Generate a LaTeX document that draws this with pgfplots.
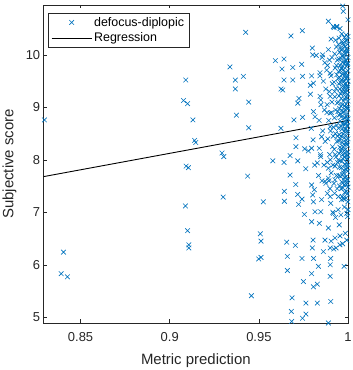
\documentclass[border=0pt]{standalone}
\usepackage{pgfplots}
\pgfplotsset{compat=1.18}
\usepackage{fontspec}
\setmainfont{Liberation Sans}
\definecolor{mblue}{RGB}{0,114,189}
\definecolor{axgray}{RGB}{38,38,38}
\pgfplotsset{
  legmark/.style={legend image code/.code={\draw[mark repeat=2,mark phase=2,##1] plot coordinates {(0bp,0bp) (20bp,0bp) (40bp,0bp)};}},
  legline/.style={legend image code/.code={\draw[##1] (0bp,0bp) -- (40bp,0bp);}},
}
\begin{document}
\begin{tikzpicture}
\useasboundingbox (-43.7bp,-47bp) rectangle (309.3bp,323bp);
\begin{axis}[
  at={(0,0)}, anchor=south west,
  scale only axis, width=304.3bp, height=318bp,
  xmin=0.8293, xmax=1, ymin=4.89, ymax=10.95,
  clip=false,
  axis line style={axgray, line width=0.5pt},
  tick style={axgray, line width=0.5pt},
  tick align=inside, major tick length=3.5bp,
  xtick={0.85,0.9,0.95,1}, xticklabels={0.85,0.9,0.95,1},
  ytick={5,6,7,8,9,10}, yticklabels={5,6,7,8,9,10},
  /pgf/number format/assume math mode=true,
  tick label style={font=\fontsize{13}{15}\selectfont, text=axgray},
  xticklabel style={yshift=-6bp},
  xlabel={Metric prediction}, ylabel={Subjective score},
  label style={font=\fontsize{15}{17}\selectfont, text=axgray},
  xlabel style={at={(axis description cs:0.5,-0.132)}, anchor=base},
  ylabel style={at={(axis description cs:-0.0999,0.5)}, anchor=base, rotate=0},
  legend cell align=left,
  legend style={at={(0.014,0.975)}, anchor=north west, draw=axgray, line width=0.5pt,
    font=\fontsize{12.5}{14}\selectfont, inner xsep=3bp, inner ysep=2bp, row sep=1bp},
]
\addplot[only marks, mark=x, mark size=3.3bp, mblue, line width=0.6pt, legmark]
coordinates {
(0.8297,8.76) (0.8404,6.24) (0.8391,5.83) (0.8426,5.77)
(0.909,9.52) (0.9077,9.13) (0.910,9.07) (0.913,8.76) (0.914,8.37) (0.9146,8.33)
(0.9092,7.88) (0.9105,7.85) (0.9088,7.12) (0.910,6.65) (0.9107,6.38) (0.9107,6.32)
(0.9338,9.77) (0.9368,9.52) (0.9368,9.35) (0.9413,9.59) (0.9374,8.85) (0.9426,10.43)
(0.9443,9.10) (0.9443,8.61) (0.9293,8.13) (0.9303,8.06) (0.930,7.29) (0.9437,7.69)
(0.9458,5.41) (0.9508,6.59) (0.9512,6.45) (0.9499,6.11) (0.9512,6.14) (0.9525,7.20)
(0.9578,7.98) (0.9593,9.89) (0.963,9.73) (0.9641,9.92) (0.9641,9.52) (0.9624,9.35)
(0.9634,9.33) (0.9624,8.60) (0.9641,7.95) (0.9643,7.40) (0.9643,7.21) (0.9656,6.43)
(0.966,6.16) (0.966,5.89) (0.968,10.36) (0.9744,10.46) (0.9686,5.37) (0.9682,5.11)
(0.9684,4.92) (0.9675,7.71) (0.9675,8.08) (0.969,9.52) (0.969,9.76) (0.974,9.82)
(0.9745,9.59) (0.9718,9.08) (0.9725,9.17) (0.9697,8.76) (0.9745,8.81) (0.9708,8.42)
(0.9708,8.25) (0.9718,7.98) (0.9707,7.53) (0.9718,7.34) (0.9723,7.15) (0.9742,7.25)
(0.9755,6.96) (0.9705,6.37) (0.9742,6.12) (0.975,5.68) (0.9764,5.27) (0.9764,5.06)
(0.9745,4.98) (0.9763,7.83) (0.9757,8.21) (0.9778,8.17) (0.98,10.13) (0.9802,10.0)
(0.9822,9.99) (0.9796,9.60) (0.9789,9.42) (0.9789,9.25) (0.9806,9.46) (0.9843,9.66)
(0.9843,9.21) (0.9847,9.14) (0.9794,8.60) (0.9806,8.92) (0.9815,8.82) (0.9804,8.38)
(0.9796,8.22) (0.9813,7.90) (0.9828,7.94) (0.9796,7.52) (0.9811,7.43) (0.9802,7.33)
(0.9806,7.20) (0.9815,7.01) (0.9796,6.82) (0.9804,6.47) (0.98,6.32) (0.9807,6.12)
(0.9796,5.83) (0.9806,5.58) (0.9828,5.63) (0.9828,5.27) (0.9834,5.97) (0.9839,6.79)
(0.9847,7.01) (0.9852,7.24) (0.9839,8.22) (0.9847,8.06) (0.9852,8.44) (0.9854,7.60)
(0.9871,7.59) (0.9862,6.25) (0.9871,6.47) (0.9858,10.0) (0.988,9.71) (0.989,10.64)
(0.99,9.21) (0.99,8.89) (0.99,8.63) (0.989,7.84) (0.989,7.65) (0.9884,7.36)
(0.99,7.30) (0.9903,7.17) (0.989,6.70) (0.99,6.32) (0.9903,6.12) (0.99,6.0)
(0.99,5.78) (0.9903,5.30) (0.989,4.89) (0.9918,6.98) (0.9927,6.51) (0.9933,6.32)
(0.9925,7.36) (0.9927,7.62) (0.9918,10.54) (0.9936,10.54) (0.9951,6.76) (0.9955,6.38)
(0.9978,5.97) (0.9993,6.47) (0.9993,6.98) (0.997,10.93) (0.9974,10.83) (1.0,10.67)
(0.9974,7.27) (0.9964,7.24)
(1.0,10.35) (0.9998,10.2) (0.9996,10.05) (1.0,9.95) (0.9997,9.82) (0.9999,9.7) (0.9995,9.6)
(1.0,9.5) (0.9996,9.38) (0.9998,9.25) (1.0,9.12) (0.9997,9.0) (0.9995,8.88) (1.0,8.78)
(0.9998,8.65) (0.9996,8.52) (1.0,8.4) (0.9997,8.28) (0.9999,8.15) (0.9995,8.02) (1.0,7.9)
(0.9997,7.78) (0.9998,7.62) (1.0,7.48) (0.9996,7.35) (0.9999,7.2) (1.0,7.05) (0.9997,6.92)
(0.999,10.38) (0.9988,10.27) (0.9991,10.12) (0.9986,10.02) (0.9989,9.9) (0.9992,9.78)
(0.9987,9.66) (0.999,9.55) (0.9985,9.44) (0.9991,9.33) (0.9988,9.2) (0.999,9.06)
(0.9986,8.95) (0.9992,8.83) (0.9989,8.7) (0.9987,8.58) (0.999,8.46) (0.9991,8.33)
(0.9986,8.2) (0.9989,8.08) (0.9992,7.95) (0.9988,7.82) (0.999,7.68) (0.9987,7.55)
(0.9991,7.4) (0.9989,7.27)
(0.998,10.33) (0.9977,10.18) (0.9982,10.07) (0.9978,9.95) (0.998,9.84) (0.9976,9.72)
(0.9983,9.62) (0.9979,9.5) (0.9981,9.4) (0.9977,9.28) (0.998,9.16) (0.9982,9.03)
(0.9976,8.92) (0.9979,8.8) (0.9983,8.68) (0.9978,8.55) (0.998,8.42) (0.9977,8.3)
(0.9981,8.18) (0.9979,8.05) (0.9982,7.92) (0.9976,7.8) (0.998,7.66) (0.9978,7.52)
(0.9981,7.38) (0.9977,7.25) (0.998,7.1)
(0.9965,10.4) (0.9968,10.25) (0.9962,10.1) (0.9966,9.98) (0.9969,9.86) (0.9963,9.74)
(0.9967,9.63) (0.9964,9.52) (0.997,9.4) (0.9966,9.3) (0.9962,9.17) (0.9968,9.05)
(0.9965,8.94) (0.9963,8.82) (0.9969,8.7) (0.9966,8.58) (0.9962,8.45) (0.9967,8.33)
(0.9964,8.21) (0.997,8.1) (0.9966,7.97) (0.9963,7.85) (0.9968,7.72) (0.9965,7.58)
(0.9962,7.45) (0.9967,7.3)
(0.995,10.32) (0.9947,10.2) (0.9953,10.05) (0.9949,9.92) (0.9955,9.8) (0.9946,9.68)
(0.9952,9.57) (0.9948,9.45) (0.9954,9.35) (0.995,9.22) (0.9946,9.1) (0.9953,8.98)
(0.9949,8.85) (0.9955,8.74) (0.9947,8.6) (0.9951,8.48) (0.9948,8.36) (0.9954,8.24)
(0.995,8.12) (0.9946,8.0) (0.9952,7.86) (0.9949,7.7) (0.9953,7.5) (0.9947,7.3)
(0.993,10.28) (0.9935,10.15) (0.9925,10.02) (0.994,9.9) (0.9928,9.75) (0.9937,9.62)
(0.9922,9.48) (0.9933,9.36) (0.9926,9.2) (0.9939,9.08) (0.993,8.95) (0.9924,8.8)
(0.9936,8.66) (0.9929,8.5) (0.9938,8.35) (0.9923,8.2) (0.9932,8.05) (0.9927,7.88)
(0.9935,7.7) (0.9921,7.55)
(0.9905,10.3) (0.989,10.1) (0.991,9.95) (0.9885,9.8) (0.99,9.65) (0.9912,9.45)
(0.9895,9.3) (0.9883,9.05) (0.9908,8.9) (0.9892,8.75) (0.9902,8.55) (0.9887,8.4)
(0.9913,8.25) (0.9897,8.1) (0.9884,7.95) (0.9906,7.75) (0.9893,7.6) (0.9899,7.45)
(0.9855,9.95) (0.987,9.85) (0.9842,9.6) (0.9862,9.5) (0.9875,9.35) (0.9848,9.05)
(0.9868,8.95) (0.9838,8.75) (0.9858,8.55) (0.9872,8.35) (0.9845,8.1) (0.9865,7.9)
(0.9835,7.7) (0.9876,7.55)
(0.9922,10.52) (0.9938,10.53) (0.9955,10.5)
(0.9915,7.0) (0.993,6.9) (0.9945,7.05) (0.996,6.95) (0.9955,6.55) (0.997,6.4)
(0.9985,6.6) (0.992,6.3) (0.9905,6.45)
(0.9993,10.28) (0.9971,10.22) (0.9984,10.16) (0.9958,10.13) (0.9995,10.08) (0.9974,10.0)
(0.9961,9.93) (0.9987,9.88) (0.9999,9.84) (0.9972,9.78) (0.9957,9.7) (0.9985,9.66)
(0.9994,9.57) (0.9973,9.55) (0.9959,9.47) (0.9983,9.45) (0.9997,9.42) (0.9971,9.35)
(0.9986,9.28) (0.9958,9.26) (0.9993,9.18) (0.9975,9.12) (0.9961,9.02) (0.9988,9.0)
(0.9999,8.97) (0.9972,8.9) (0.9957,8.87) (0.9984,8.8) (0.9994,8.72) (0.9974,8.68)
(0.996,8.64) (0.9985,8.6) (0.9997,8.56) (0.9971,8.49) (0.9958,8.4) (0.9988,8.38)
(0.9993,8.3) (0.9973,8.25) (0.9961,8.17) (0.9983,8.13) (0.9998,8.08) (0.9972,8.02)
(0.9956,7.98) (0.9986,7.9) (0.9994,7.84) (0.9975,7.75) (0.9959,7.68) (0.9984,7.6)
(0.9997,7.55) (0.9971,7.46)
(0.9945,9.55) (0.9935,9.8) (0.9925,9.3) (0.991,9.1) (0.9943,8.92) (0.9918,8.62)
(0.9941,8.45) (0.9928,8.1) (0.9915,7.9) (0.9942,7.95) (0.9896,9.9) (0.9905,9.6)
(0.9882,8.9) (0.9917,8.45) (0.9939,7.45) (0.9901,8.0)
};
\addlegendentry{defocus-diplopic}
\addplot[black, line width=0.9pt, legline]
coordinates {(0.8293,7.68) (1,8.75)};
\addlegendentry{Regression}
\end{axis}
\end{tikzpicture}
\end{document}
